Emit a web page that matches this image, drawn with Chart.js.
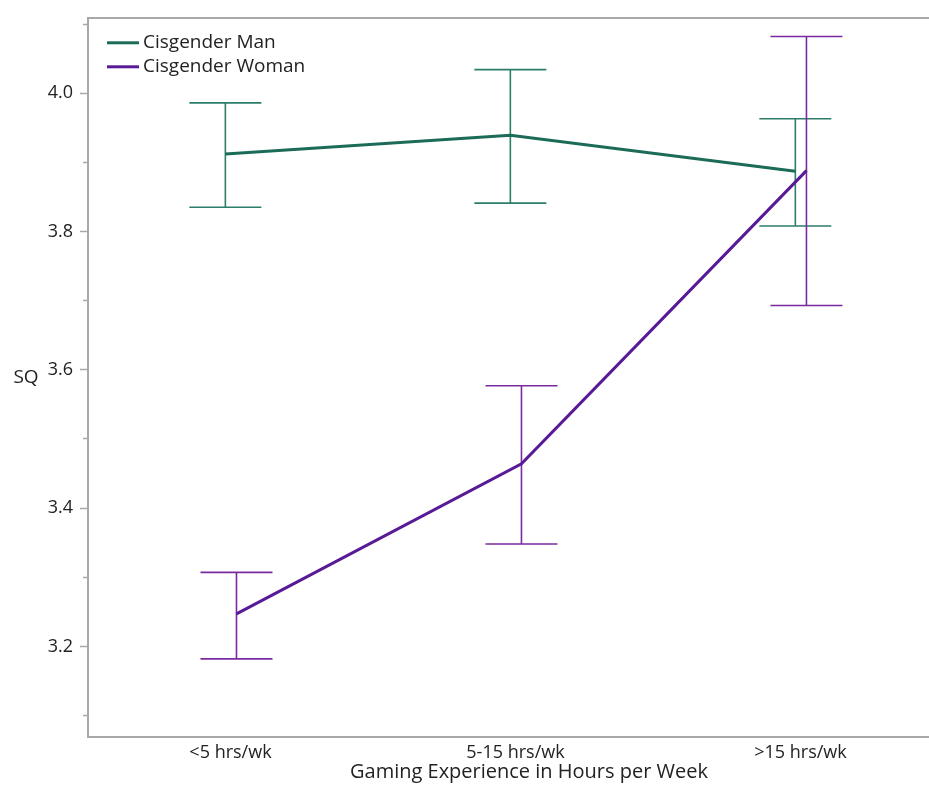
<!DOCTYPE html>
<html>
<head>
<meta charset="utf-8">
<script src="https://cdn.jsdelivr.net/npm/chart.js@4.4.1/dist/chart.umd.min.js"></script>
<style>
  html, body { margin: 0; padding: 0; background: #fff; }
  #wrap { width: 929px; height: 791px; position: relative; }
</style>
</head>
<body>
<div id="wrap"><canvas id="chart"></canvas></div>
<script>
// SQ by weekly gaming hours, means with error bars
const categories = ['<5 hrs/wk', '5-15 hrs/wk', '>15 hrs/wk'];

const manMean = [3.912, 3.939, 3.887];
const manLow = [3.835, 3.841, 3.808];
const manHigh = [3.986, 4.034, 3.963];

const womanMean = [3.247, 3.464, 3.888];
const womanLow = [3.182, 3.348, 3.693];
const womanHigh = [3.307, 3.577, 4.082];

const yMajorTicks = [3.2, 3.4, 3.6, 3.8, 4.0];
const yMinorTicks = [3.1, 3.3, 3.5, 3.7, 3.9, 4.1];

const FONT = "'Open Sans', 'Noto Sans', sans-serif";
const TEXT = '#222222';
const AXIS = '#a8a8a8';
const GREEN = '#1c6b58';
const GREEN_BAR = '#2c7d69';
const PURPLE = '#581a96';
const PURPLE_BAR = '#7a2a9f';

// small dodge so the two groups don't sit on top of each other
const manShift = -0.018;
const womanShift = 0.021;

function meanPoints(vals, shift) {
  return vals.map((v, i) => ({ x: i + 1 + shift, y: v }));
}

// each bar is lo -> hi, then a null to break the line
function barPoints(lo, hi, shift) {
  const pts = [];
  categories.forEach((c, i) => {
    const x = i + 1 + shift;
    pts.push({ x: x, y: lo[i] }, { x: x, y: hi[i] }, { x: x, y: null });
  });
  return pts;
}

function fixWidth(w) {
  return (scale) => { scale.width = w; };
}
function fixHeight(h) {
  return (scale) => { scale.height = h; };
}

// legend inside the plot, plus the two axis titles
const annotations = {
  id: 'annotations',
  afterDraw(chart) {
    const ctx = chart.ctx;
    const { left, top, bottom } = chart.chartArea;
    const items = chart.data.datasets.filter(d => d.label);
    ctx.save();
    ctx.font = '19px ' + FONT;
    ctx.textBaseline = 'middle';
    ctx.textAlign = 'left';
    items.forEach((d, i) => {
      const y = top + 25 + i * 24;
      ctx.strokeStyle = d.borderColor;
      ctx.lineWidth = 3;
      ctx.beginPath();
      ctx.moveTo(left + 19, y);
      ctx.lineTo(left + 51, y);
      ctx.stroke();
      ctx.fillStyle = TEXT;
      ctx.fillText(d.label, left + 55, y);
    });
    ctx.textAlign = 'center';
    ctx.fillText('SQ', 26, (top + bottom) / 2);
    ctx.font = '20px ' + FONT;
    ctx.fillText('Gaming Experience in Hours per Week', 529, bottom + 35);
    ctx.restore();
  }
};

new Chart(document.getElementById('chart'), {
  type: 'line',
  data: {
    datasets: [
      {
        label: 'Cisgender Man',
        data: meanPoints(manMean, manShift),
        borderColor: GREEN,
        borderWidth: 3,
        pointRadius: 0,
        order: 1
      },
      {
        label: 'Cisgender Woman',
        data: meanPoints(womanMean, womanShift),
        borderColor: PURPLE,
        borderWidth: 3,
        pointRadius: 0,
        order: 0
      },
      {
        data: barPoints(manLow, manHigh, manShift),
        borderColor: GREEN_BAR,
        borderWidth: 1.6,
        spanGaps: false,
        pointStyle: 'line',
        pointRadius: 36,
        pointBorderWidth: 1.6,
        pointBorderColor: GREEN_BAR,
        order: 3
      },
      {
        data: barPoints(womanLow, womanHigh, womanShift),
        borderColor: PURPLE_BAR,
        borderWidth: 1.6,
        spanGaps: false,
        pointStyle: 'line',
        pointRadius: 36,
        pointBorderWidth: 1.6,
        pointBorderColor: PURPLE_BAR,
        order: 2
      }
    ]
  },
  options: {
    responsive: true,
    maintainAspectRatio: false,
    animation: false,
    events: [],
    layout: { autoPadding: false, padding: { top: 15, right: 0, bottom: 0, left: 0 } },
    plugins: {
      legend: { display: false },
      tooltip: { enabled: false }
    },
    scales: {
      x: {
        type: 'linear',
        position: 'bottom',
        min: 0.5,
        max: 3.451,
        afterBuildTicks: (scale) => {
          scale.ticks = categories.map((c, i) => ({ value: i + 1 }));
        },
        afterFit: fixHeight(54),
        grid: { display: false, drawTicks: false },
        border: { display: true, color: AXIS, width: 2 },
        ticks: {
          padding: 5,
          color: TEXT,
          maxRotation: 0,
          font: { family: FONT, size: 18 },
          callback: (v) => categories[Math.round(v) - 1]
        }
      },
      xTop: {
        type: 'linear',
        position: 'top',
        afterFit: fixHeight(0),
        grid: { display: false },
        border: { display: true, color: AXIS, width: 2 },
        ticks: { display: false }
      },
      y: {
        position: 'left',
        weight: 1,
        min: 3.069,
        max: 4.109,
        afterBuildTicks: (scale) => {
          scale.ticks = yMajorTicks.map(v => ({ value: v }));
        },
        afterFit: fixWidth(88),
        grid: {
          drawOnChartArea: false,
          drawTicks: true,
          tickLength: 8,
          tickColor: AXIS,
          tickWidth: 1.5
        },
        border: { display: true, color: AXIS, width: 2 },
        ticks: {
          padding: 7,
          color: TEXT,
          font: { family: FONT, size: 18 },
          callback: (v) => v.toFixed(1)
        }
      },
      yMinor: {
        position: 'left',
        weight: 0,
        min: 3.069,
        max: 4.109,
        afterBuildTicks: (scale) => {
          scale.ticks = yMinorTicks.map(v => ({ value: v }));
        },
        afterFit: fixWidth(0),
        grid: {
          drawOnChartArea: false,
          drawTicks: true,
          tickLength: 5,
          tickColor: AXIS,
          tickWidth: 1.5
        },
        border: { display: false },
        ticks: { callback: () => '' }
      }
    }
  },
  plugins: [annotations]
});
</script>
</body>
</html>
